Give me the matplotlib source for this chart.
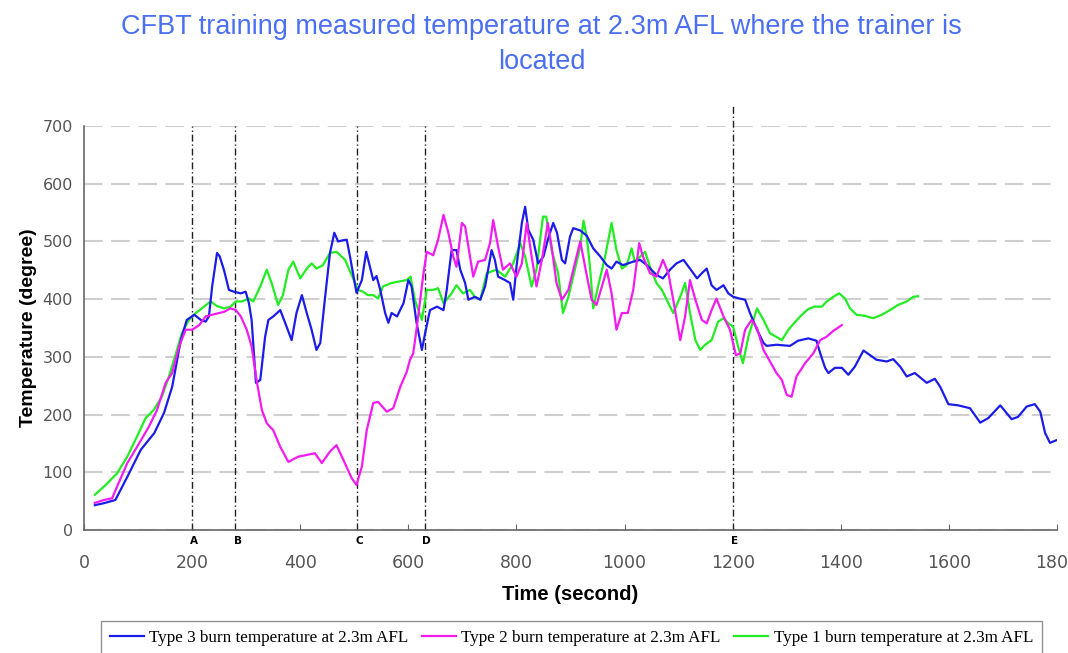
import matplotlib
matplotlib.use("Agg")
import matplotlib.pyplot as plt

# Type 3 burn (blue)
type3_time = [20, 35, 58, 80, 105, 130, 148, 163, 179, 190, 204, 216, 225, 231, 237, 246, 251, 259,
              268, 277, 290, 299, 305, 310, 318, 326, 335, 341, 350, 363, 372, 384, 393, 403, 412,
              421, 430, 437, 446, 455, 463, 470, 479, 486, 492, 504, 514, 522, 529, 535, 541, 548,
              557, 563, 569, 579, 591, 600, 606, 615, 625, 631, 640, 653, 665, 671, 680, 689, 696,
              705, 711, 723, 733, 742, 754, 760, 766, 779, 788, 794, 800, 810, 816, 822, 831, 840,
              850, 858, 868, 875, 884, 890, 899, 905, 918, 930, 942, 955, 967, 976, 985, 997, 1016,
              1029, 1041, 1059, 1071, 1084, 1096, 1109, 1121, 1134, 1143, 1152, 1161, 1170, 1183,
              1192, 1201, 1213, 1223, 1232, 1245, 1257, 1263, 1281, 1306, 1321, 1340, 1355, 1362,
              1371, 1377, 1389, 1402, 1414, 1426, 1442, 1454, 1466, 1485, 1497, 1510, 1522, 1537,
              1559, 1574, 1584, 1599, 1617, 1639, 1658, 1673, 1695, 1716, 1728, 1744, 1759, 1769,
              1778, 1787, 1800]
type3_temp = [43, 46, 52, 92, 139, 168, 203, 248, 329, 364, 373, 364, 361, 370, 422, 480, 474, 450,
              416, 413, 410, 413, 393, 364, 255, 260, 335, 364, 370, 381, 359, 329, 376, 407, 376,
              347, 312, 324, 404, 480, 515, 500, 502, 503, 474, 411, 433, 482, 456, 433, 440, 416,
              376, 359, 376, 370, 393, 433, 422, 360, 312, 341, 381, 387, 381, 416, 485, 485, 451,
              428, 399, 404, 399, 422, 485, 468, 439, 433, 428, 399, 456, 532, 560, 520, 503, 462,
              474, 503, 532, 515, 468, 462, 508, 523, 519, 510, 488, 474, 459, 453, 465, 459, 465,
              468, 459, 442, 436, 451, 462, 468, 453, 436, 445, 453, 424, 416, 424,
              410, 404, 401, 399, 376, 347, 324, 319, 321, 319, 328, 332, 328, 306,
              281, 272, 281, 281, 269, 283, 311, 303, 295, 292, 296, 283, 266, 272,
              255, 262, 248, 218, 216, 211, 186, 194, 216, 192, 196, 214, 218, 205,
              168, 151, 156]

# Type 2 burn (magenta)
type2_time = [20, 37, 52, 61, 80, 98, 120, 135, 151, 163, 176, 188, 200, 213, 225, 237, 250, 259,
              271, 281, 290, 301, 310, 320, 329, 338, 350, 363, 378, 396, 412, 427, 440, 455, 467,
              480, 495, 504, 514, 523, 535, 544, 560, 572, 585, 597, 603, 609, 615, 628, 634, 646,
              655, 665, 674, 683, 689, 699, 705, 714, 720, 729, 742, 751, 757, 766, 775, 788, 800,
              810, 819, 828, 837, 847, 858, 865, 874, 884, 896, 908, 918, 927, 939, 948, 958, 967,
              976, 985, 995, 1006, 1016, 1027, 1034, 1047, 1059, 1071, 1081, 1090, 1103, 1112,
              1121, 1131, 1143, 1152, 1161, 1170, 1183, 1195, 1206, 1214, 1223, 1235, 1245, 1257,
              1269, 1281, 1291, 1300, 1309, 1318, 1334, 1349, 1362, 1374, 1386, 1402]
type2_temp = [47, 52, 55, 75, 116, 144, 179, 208, 255, 272, 318, 347, 347, 355, 370, 373, 376, 378,
              384, 381, 370, 347, 318, 255, 208, 185, 173, 144, 118, 127, 130, 133, 116, 136, 147,
              121, 90, 78, 110, 173, 220, 222, 205, 211, 248, 274, 295, 306, 347, 445, 482, 476,
              503, 546, 515, 474, 456, 532, 526, 474, 439, 465, 468, 497, 537, 491, 451, 462, 439,
              462, 532, 474, 422, 468, 532, 491, 428, 399, 416, 462, 500, 456, 399, 390, 422, 451,
              410, 347, 376, 376, 416, 497, 474, 445, 439, 468, 445, 399, 329, 370,
              433, 399, 364, 358, 381, 401, 370, 347, 303, 306, 347, 364, 350, 312,
              292, 272, 260, 234, 231, 266, 289, 306, 329, 335, 345, 355]

# Type 1 burn (green)
type1_time = [20, 40, 61, 80, 98, 114, 129, 144, 157, 170, 181, 194, 207, 218, 234, 246, 259, 271,
              281, 292, 305, 313, 326, 338, 347, 359, 368, 378, 387, 400, 412, 421, 430, 442, 455,
              467, 483, 495, 507, 516, 525, 535, 544, 553, 569, 585, 597, 604, 612, 625, 634, 646,
              655, 665, 680, 689, 701, 714, 723, 733, 745, 763, 779, 794, 807, 816, 828, 837, 849,
              855, 865, 877, 886, 896, 908, 918, 924, 930, 936, 942, 951, 964, 976, 985, 995, 1004,
              1013, 1019, 1029, 1038, 1047, 1059, 1069, 1081, 1090, 1103, 1112, 1121, 1131, 1140,
              1149, 1161, 1173, 1183, 1192, 1201, 1210, 1219, 1229, 1245, 1257, 1269, 1291, 1303,
              1316, 1328, 1340, 1352, 1365, 1374, 1386, 1397, 1408, 1417, 1429, 1445, 1460, 1476,
              1491, 1506, 1522, 1534, 1543]
type1_temp = [61, 78, 98, 127, 162, 194, 208, 231, 266, 306, 341, 364, 376, 384, 396, 388, 384, 387,
              396, 396, 401, 396, 422, 451, 428, 390, 407, 451, 465, 436, 453, 462, 453, 459, 480,
              482, 468, 442, 416, 413, 407, 407, 401, 422, 428, 431, 433, 439, 399, 364, 416, 416,
              419, 393, 410, 424, 410, 416, 404, 399, 445, 451, 439, 462, 497, 474, 422, 451, 543,
              543, 485, 445, 376, 404, 451, 491, 536, 508, 456, 384, 422, 474, 532, 485, 453, 459,
              488, 465, 474, 482, 456, 428, 416, 393, 376, 404, 428, 376, 329, 312,
              321, 329, 361, 367, 358, 352, 318, 289, 335, 384, 364, 341, 329, 347,
              361, 373, 383, 387, 387, 396, 404, 410, 401, 384, 373, 371, 367, 373,
              381, 390, 396, 404, 405]

# phase markers
marker_names = ["A", "B", "C", "D", "E"]
marker_times = [200, 280, 505, 630, 1200]

fig = plt.figure(figsize=(10.68, 6.53), dpi=100)
ax = fig.add_axes([0.0787, 0.1884, 0.9110, 0.6186])

ax.plot(type3_time, type3_temp, color="#1c1ce8", lw=1.6, label="Type 3 burn temperature at 2.3m AFL", zorder=3)
ax.plot(type2_time, type2_temp, color="#f21cf0", lw=1.6, label="Type 2 burn temperature at 2.3m AFL", zorder=3)
ax.plot(type1_time, type1_temp, color="#22ec22", lw=1.6, label="Type 1 burn temperature at 2.3m AFL", zorder=2)

# vertical phase lines
for name, t in zip(marker_names, marker_times):
    top = 738 if name == "E" else 700
    ax.plot([t, t], [0, top], color="#222222", lw=1.0, linestyle=(0, (5, 2, 1, 2)),
            clip_on=False, zorder=1)
    ax.text(t + 4, -19, name, ha="center", va="center", fontsize=7.5, fontweight="bold",
            family=["Liberation Sans Narrow", "DejaVu Sans"], clip_on=False)

ax.set_xlim(0, 1800)
ax.set_ylim(0, 700)
ax.set_xticks(range(0, 1801, 200))
ax.set_yticks(range(0, 701, 100))

ax.yaxis.grid(True, color="#cfcfcf", linestyle=(0, (9, 4)), lw=1.5)
ax.set_axisbelow(True)

for s in ["top", "right"]:
    ax.spines[s].set_visible(False)
for s in ["left", "bottom"]:
    ax.spines[s].set_color("#666666")
    ax.spines[s].set_linewidth(1.2)

ax.tick_params(axis="x", direction="in", length=4, pad=17, colors="#666666",
               labelcolor="#555555", labelsize=12.5)
ax.tick_params(axis="y", direction="out", length=0, pad=8, labelcolor="#555555", labelsize=11.5)
for lab in ax.get_xticklabels():
    lab.set_family(["Liberation Sans Narrow", "DejaVu Sans"])

ax.set_xlabel("Time (second)", fontsize=14.5, fontweight="bold", labelpad=10,
              family=["Liberation Sans", "DejaVu Sans"])
ax.set_ylabel("Temperature (degree)", fontsize=14, fontweight="bold", labelpad=4,
              family=["Liberation Sans", "DejaVu Sans"])

fig.text(0.507, 0.978, "CFBT training measured temperature at 2.3m AFL where the trainer is\nlocated",
         ha="center", va="top", fontsize=19.5, color="#4a6ff2", linespacing=1.45,
         family=["Liberation Sans", "DejaVu Sans"])

leg = fig.legend(loc="upper center", bbox_to_anchor=(0.535, 0.049), ncol=3, frameon=True,
                 fancybox=False, edgecolor="#777777", handlelength=2.0, handletextpad=0.3,
                 columnspacing=0.8, borderaxespad=0, borderpad=0.5,
                 prop={"family": ["Liberation Serif", "DejaVu Serif"], "size": 12.3})
leg.get_frame().set_linewidth(1.0)

fig.savefig("out.png", dpi=100)
